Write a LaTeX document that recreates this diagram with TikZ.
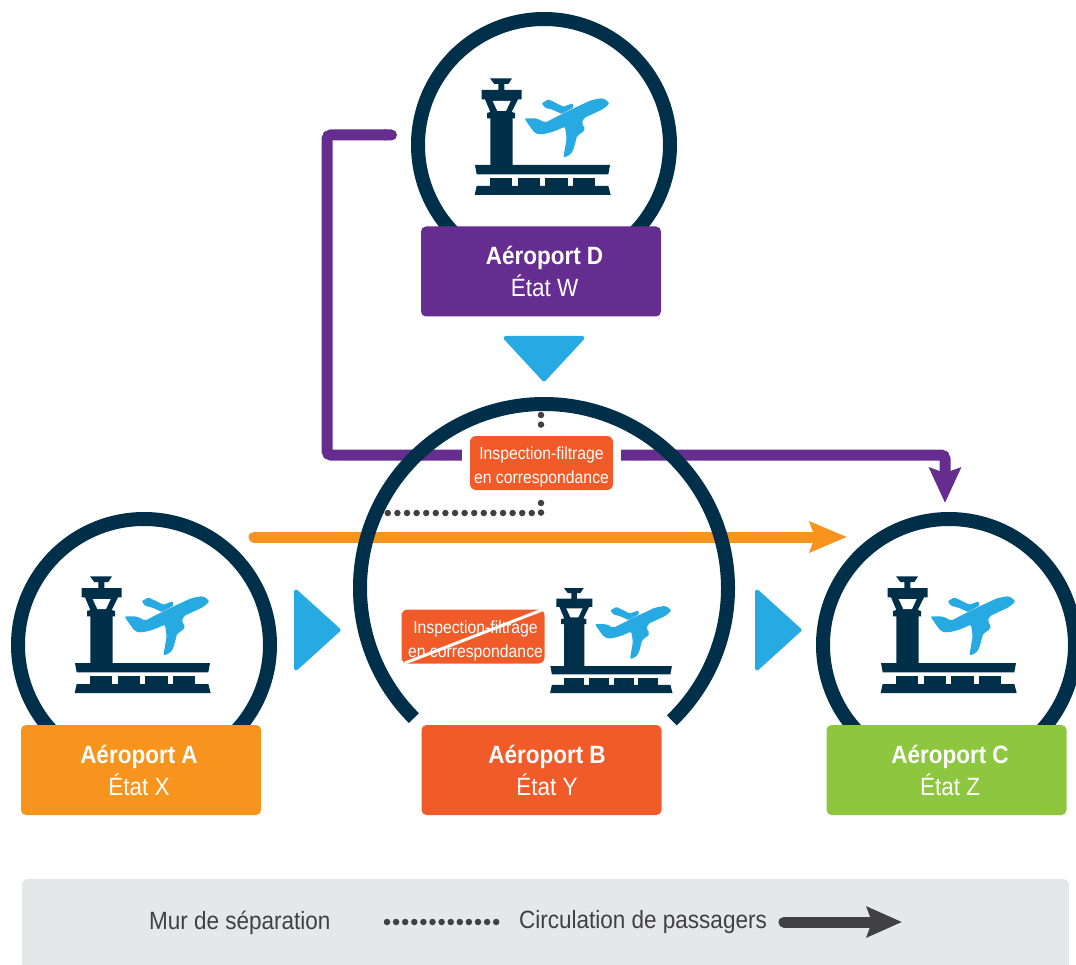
\documentclass[tikz,border=0pt]{standalone}
\usepackage{fontspec}
\setmainfont[FakeStretch=0.9]{Liberation Sans}
\usetikzlibrary{positioning, arrows.meta}

\definecolor{ringblue}{HTML}{003049}
\definecolor{skyblue}{HTML}{27AAE1}
\definecolor{aptpurple}{HTML}{662D91}
\definecolor{aptorange}{HTML}{F7941E}
\definecolor{aptred}{HTML}{F15A29}
\definecolor{aptgreen}{HTML}{8DC63F}
\definecolor{legendgray}{HTML}{E6E7E8}
\definecolor{dotgray}{HTML}{414042}

\begin{document}
\begin{tikzpicture}[
  x=1pt, y=-1pt,
  every node/.style={align=center, text=white},
  apt/.style={rectangle, rounded corners=5pt, minimum width=240pt, minimum height=90pt, inner sep=0pt},
  aptlabel/.style={inner sep=0pt, font=\fontsize{25}{32}\selectfont},
  screening/.style={rectangle, fill=aptred, rounded corners=6pt, minimum width=143pt, minimum height=54pt, inner sep=0pt},
  screenlabel/.style={inner sep=0pt, font=\fontsize{17.5}{24.5}\selectfont},
  legendtext/.style={text=dotgray, inner sep=0pt, font=\fontsize{25}{28}\selectfont},
  ring/.style={draw=ringblue, line width=14pt},
  stepmark/.style={fill=skyblue, draw=skyblue, line width=4pt, line join=round},
  wall/.style={draw=dotgray, line width=6.5pt, line cap=round, dash pattern=on 0pt off 9.6pt},
  flowD/.style={draw=aptpurple, line width=11pt, rounded corners=4pt},
  flowA/.style={draw=aptorange, line width=11pt, line cap=round},
  airport/.pic={
    \begin{scope}[scale=1/3, shift={(-432,-435)}]
      % tour
      \fill[ringblue] (270,235) -- (336,235) -- (325,252) -- (313,252) -- (313,270) -- (365,270) -- (365,298) -- (354,298) -- (335,336) -- (345,339) -- (345,355) -- (338,355) -- (338,495) -- (271,495) -- (271,355) -- (261,355) -- (261,339) -- (271,336) -- (255,298) -- (245,298) -- (245,270) -- (295,270) -- (295,252) -- (283,252) -- cycle;
      \fill[white] (278,303) -- (332,303) -- (318,333) -- (292,333) -- cycle;
      % terminal
      \fill[ringblue] (225,495) -- (630,495) -- (625,523) -- (230,523) -- cycle;
      \foreach \bx in {270,353,436,518}
        \fill[ringblue] (\bx,535) rectangle ++(67,25);
      \fill[ringblue] (230,558) -- (625,558) -- (632,585) -- (224,585) -- cycle;
      % avion
      \fill[skyblue, rounded corners=2pt] (373,355) -- (410,355) -- (435,368) -- (510,330) -- (575,300) -- (610,294) -- (629,310) -- (610,327) -- (550,355) -- (545,373) -- (557,385) -- (545,400) -- (532,405) -- (520,450) -- (510,465) -- (490,473) -- (500,415) -- (495,380) -- (460,395) -- (425,404) -- (405,400) -- (390,380) -- cycle;
      \fill[skyblue, rounded corners=1pt] (425,310) -- (445,298) -- (490,320) -- (518,310) -- (520,323) -- (485,342) -- (460,330) -- (435,323) -- cycle;
    \end{scope}
  }
]
\useasboundingbox (0,0) rectangle (1076,965);

% legende
\fill[legendgray, rounded corners=6pt] (22,879) rectangle (1069,975);
\node[legendtext, anchor=west] (legWall) at (149,922.5) {Mur de séparation};
\node[legendtext, anchor=west] (legFlow) at (519,922.5) {Circulation de passagers};
\coordinate (legDotA) at (387,922);
\coordinate (legDotB) at (497,922);
\coordinate (legArrA) at (784,922);
\coordinate (legArrB) at (902,922);
\draw[wall, dash pattern=on 0pt off 9.1pt] (legDotA) -- (legDotB);
\draw[draw=dotgray, line width=11pt, line cap=round, -{Stealth[length=35pt,width=30pt,inset=5pt,fill=dotgray]}] (legArrA) -- (legArrB);

% anneaux
\draw[ring] (544,145) ++(130:126) arc[start angle=130, end angle=410, radius=126];
\draw[ring] (144,645) ++(130:126) arc[start angle=130, end angle=410, radius=126];
\draw[ring] (949,645) ++(130:126) arc[start angle=130, end angle=410, radius=126];

% aeroports
\node[apt, fill=aptpurple] (aptD) at (541,271.5) {};
\node[apt, fill=aptorange] (aptA) at (141,770) {};
\node[apt, fill=aptred] (aptB) at (541.5,770) {};
\node[apt, fill=aptgreen] (aptC) at (946.5,770) {};
\node[aptlabel, xshift=3.5pt] (labD) at (aptD) {\textbf{Aéroport D}\\État W};
\node[aptlabel, xshift=-2pt] (labA) at (aptA) {\textbf{Aéroport A}\\État X};
\node[aptlabel, xshift=5.5pt] (labB) at (aptB) {\textbf{Aéroport B}\\État Y};
\node[aptlabel, xshift=3.5pt] (labC) at (aptC) {\textbf{Aéroport C}\\État Z};

% inspection
\node[screening] (screenT) at (541.5,463) {};
\node[screening] (screenB) at (473,636.5) {};
\node[screenlabel, yshift=-4pt] (labT) at (screenT) {Inspection-filtrage\\en correspondance};
\node[screenlabel, xshift=2.5pt, yshift=-4.5pt] (labS) at (screenB) {Inspection-filtrage\\en correspondance};
\coordinate (strikeA) at (405,663);
\coordinate (strikeB) at (542,610);
\draw[white, line width=3pt] (strikeA) -- (strikeB);

% parcours
\coordinate (leaveD) at (397,135);
\coordinate (turnT) at (327,135);
\coordinate (turnB) at (327,455);
\coordinate (turnC) at (945,455);
\coordinate (arriveC) at (945,503);
\coordinate (leaveA) at (254,537);
\coordinate (arriveB) at (847,537);
\draw[flowD, shorten >=8pt, {Round Cap}-] (leaveD) -- (turnT) -- (turnB) -- (screenT.west |- turnB);
\draw[flowD, shorten <=8pt, -{Stealth[length=35pt,width=31pt,inset=5pt,fill=aptpurple]}] (screenT.east |- turnC) -- (turnC) -- (arriveC);
\draw[flowA, -{Stealth[length=37pt,width=30pt,inset=5pt,fill=aptorange]}] (leaveA) -- (arriveB);

% mur
\coordinate (wallA) at (541,415);
\coordinate (wallB) at (541,425);
\coordinate (wallC) at (541,503);
\coordinate (wallD) at (541,513);
\coordinate (wallE) at (386,513);
\draw[wall] (wallA) -- (wallB);
\draw[wall] (wallC) -- (wallD) -- (wallE);

% anneau central
\draw[ring] (544,588) ++(135:184) arc[start angle=135, end angle=406, radius=184];

% icones
\pic (iconD) at (544,145) {airport};
\pic (iconA) at (144,643) {airport};
\pic (iconB) at (612.5,648) [scale=.9] {airport};
\pic (iconC) at (950,643) {airport};

% fleches bleues
\fill[stepmark] (505.5,338) -- (582.5,338) -- (544,379.5) -- cycle;
\fill[stepmark] (296,591.5) -- (296,668.5) -- (338.5,630) -- cycle;
\fill[stepmark] (757,591.5) -- (757,668.5) -- (799.5,630) -- cycle;

\end{tikzpicture}
\end{document}
